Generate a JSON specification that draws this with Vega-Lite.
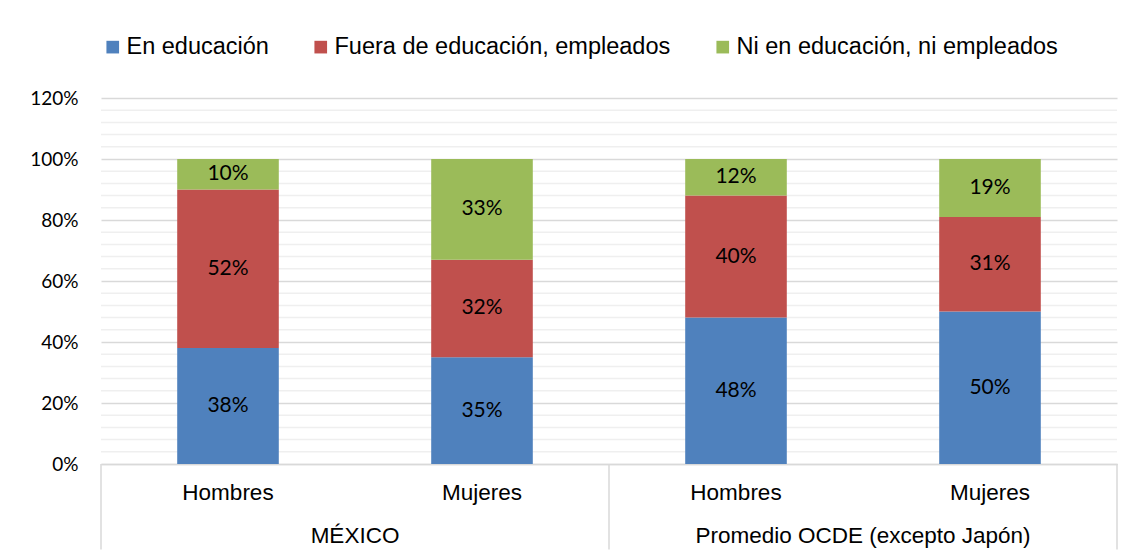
{
  "$schema": "https://vega.github.io/schema/vega-lite/v6.json",
  "width": 1016,
  "height": 366,
  "autosize": {"type": "none"},
  "padding": {"left": 101, "top": 98, "right": 16, "bottom": 94},
  "background": "white",
  "config": {"view": {"stroke": null}},
  "datasets": {
    "barras": [
      {"barra": "MÉXICO|Hombres", "cat": "En educación", "v": 0.38},
      {"barra": "MÉXICO|Hombres", "cat": "Fuera de educación, empleados", "v": 0.52},
      {"barra": "MÉXICO|Hombres", "cat": "Ni en educación, ni empleados", "v": 0.10},
      {"barra": "MÉXICO|Mujeres", "cat": "En educación", "v": 0.35},
      {"barra": "MÉXICO|Mujeres", "cat": "Fuera de educación, empleados", "v": 0.32},
      {"barra": "MÉXICO|Mujeres", "cat": "Ni en educación, ni empleados", "v": 0.33},
      {"barra": "OCDE|Hombres", "cat": "En educación", "v": 0.48},
      {"barra": "OCDE|Hombres", "cat": "Fuera de educación, empleados", "v": 0.40},
      {"barra": "OCDE|Hombres", "cat": "Ni en educación, ni empleados", "v": 0.12},
      {"barra": "OCDE|Mujeres", "cat": "En educación", "v": 0.50},
      {"barra": "OCDE|Mujeres", "cat": "Fuera de educación, empleados", "v": 0.31},
      {"barra": "OCDE|Mujeres", "cat": "Ni en educación, ni empleados", "v": 0.19}
    ],
    "grupos": [
      {"barra": "MÉXICO|Hombres", "grupo": "MÉXICO"},
      {"barra": "OCDE|Hombres", "grupo": "Promedio OCDE (excepto Japón)"}
    ],
    "borde_izq": [{"barra": "MÉXICO|Hombres"}],
    "borde_der": [{"barra": "MÉXICO|Mujeres"}, {"barra": "OCDE|Mujeres"}],
    "menores": [
      {"g": 0.04}, {"g": 0.08}, {"g": 0.12}, {"g": 0.16},
      {"g": 0.24}, {"g": 0.28}, {"g": 0.32}, {"g": 0.36},
      {"g": 0.44}, {"g": 0.48}, {"g": 0.52}, {"g": 0.56},
      {"g": 0.64}, {"g": 0.68}, {"g": 0.72}, {"g": 0.76},
      {"g": 0.84}, {"g": 0.88}, {"g": 0.92}, {"g": 0.96},
      {"g": 1.04}, {"g": 1.08}, {"g": 1.12}, {"g": 1.16}
    ]
  },
  "layer": [
    {
      "data": {"name": "menores"},
      "mark": {"type": "rule", "color": "#efefef", "strokeWidth": 1.5},
      "encoding": {
        "y": {"field": "g", "type": "quantitative"}
      }
    },
    {
      "data": {"name": "barras"},
      "transform": [
        {"stack": "v", "groupby": ["barra"], "sort": [{"field": "cat", "order": "ascending"}], "as": ["y0", "y1"]}
      ],
      "mark": {"type": "bar"},
      "encoding": {
        "x": {
          "field": "barra", "type": "nominal",
          "sort": ["MÉXICO|Hombres", "MÉXICO|Mujeres", "OCDE|Hombres", "OCDE|Mujeres"],
          "scale": {"paddingInner": 0.6, "paddingOuter": 0.3},
          "axis": {
            "title": null,
            "labelExpr": "split(datum.label, '|')[1]",
            "labelFont": "Liberation Sans",
            "labelFontSize": 22.5,
            "labelColor": "#000",
            "labelPadding": 17,
            "labelAngle": 0,
            "ticks": false,
            "tickSize": 0,
            "domainColor": "#d9d9d9",
            "domainWidth": 1.5,
            "grid": false
          }
        },
        "y": {
          "field": "y0", "type": "quantitative",
          "scale": {"domain": [0, 1.2]},
          "axis": {
            "title": null,
            "tickCount": 6,
            "format": ".0%",
            "grid": true,
            "domain": false,
            "ticks": false,
            "labelFont": "Lato",
            "labelFontSize": 19,
            "labelColor": "#000",
            "labelPadding": 23,
            "gridColor": "#d9d9d9",
            "gridWidth": 1.5
          }
        },
        "y2": {"field": "y1"},
        "color": {
          "field": "cat", "type": "nominal",
          "scale": {
            "domain": ["En educación", "Fuera de educación, empleados", "Ni en educación, ni empleados"],
            "range": ["#4F81BD", "#C0504D", "#9BBB59"]
          },
          "legend": {
            "title": null,
            "orient": "none",
            "legendX": 0,
            "legendY": -63,
            "direction": "horizontal",
            "symbolType": "square",
            "symbolSize": 160,
            "symbolStrokeWidth": 0,
            "labelFont": "Liberation Sans",
            "labelFontSize": 23.5,
            "labelColor": "#000",
            "labelOffset": 2,
            "columnPadding": 40,
            "labelLimit": 500
          }
        }
      }
    },
    {
      "data": {"name": "barras"},
      "transform": [
        {"stack": "v", "groupby": ["barra"], "sort": [{"field": "cat", "order": "ascending"}], "as": ["y0", "y1"]},
        {"calculate": "(datum.y0 + datum.y1) / 2", "as": "ymid"}
      ],
      "mark": {"type": "text", "font": "Lato", "fontSize": 21, "color": "#000", "baseline": "middle"},
      "encoding": {
        "x": {"field": "barra", "type": "nominal"},
        "y": {"field": "ymid", "type": "quantitative"},
        "text": {"field": "v", "type": "quantitative", "format": ".0%"}
      }
    },
    {
      "data": {"name": "borde_izq"},
      "mark": {"type": "rule", "color": "#d9d9d9", "strokeWidth": 1.5},
      "encoding": {
        "x": {"field": "barra", "type": "nominal", "bandPosition": -0.75},
        "y": {"datum": 0, "type": "quantitative"},
        "y2": {"datum": -0.28}
      }
    },
    {
      "data": {"name": "borde_der"},
      "mark": {"type": "rule", "color": "#d9d9d9", "strokeWidth": 1.5},
      "encoding": {
        "x": {"field": "barra", "type": "nominal", "bandPosition": 1.75},
        "y": {"datum": 0, "type": "quantitative"},
        "y2": {"datum": -0.28}
      }
    },
    {
      "data": {"name": "grupos"},
      "mark": {"type": "text", "font": "Liberation Sans", "fontSize": 22.5, "baseline": "alphabetic", "color": "#000"},
      "encoding": {
        "x": {"field": "barra", "type": "nominal", "bandPosition": 1.75},
        "y": {"datum": -0.259, "type": "quantitative"},
        "text": {"field": "grupo", "type": "nominal"}
      }
    }
  ]
}
